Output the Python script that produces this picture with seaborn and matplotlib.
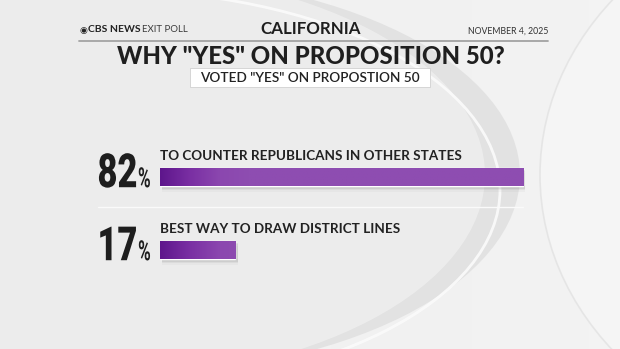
import numpy as np
import pandas as pd
import matplotlib
matplotlib.use("Agg")
import matplotlib.pyplot as plt
import seaborn as sns
import matplotlib.patheffects as pe
from matplotlib.transforms import Affine2D
from matplotlib.patches import Ellipse, Rectangle
from matplotlib.colors import LinearSegmentedColormap

# ---- data ----
categories = ["TO COUNTER REPUBLICANS IN OTHER STATES", "BEST WAY TO DRAW DISTRICT LINES"]
values = [82, 17]
state = "CALIFORNIA"
title = 'WHY "YES" ON PROPOSITION 50?'
subtitle = 'VOTED "YES" ON PROPOSTION 50'
date = "NOVEMBER 4, 2025"

df = pd.DataFrame({"category": categories, "value": values})

sns.set_theme(style="white")
plt.rcParams["font.family"] = ["Lato", "DejaVu Sans"]


class Condense(pe.AbstractPathEffect):
    """Draw text glyphs horizontally condensed toward one edge
    (the text stays a real Text artist)."""

    def __init__(self, sx, anchor="right"):
        super().__init__()
        self.sx = sx
        self.anchor = anchor

    def draw_path(self, renderer, gc, tpath, affine, rgbFace=None):
        ext = tpath.get_extents()
        xa = ext.x1 if self.anchor == "right" else ext.x0
        tr = Affine2D().translate(-xa, 0).scale(self.sx, 1).translate(xa, 0)
        renderer.draw_path(gc, tpath, tr + affine, rgbFace)


W, H = 620, 349
fig = plt.figure(figsize=(W / 100, H / 100), dpi=100)
fig.patch.set_facecolor("#e9e9e9")

# ---- background decoration (pixel coordinates) ----
bg = fig.add_axes([0, 0, 1, 1], zorder=0)
bg.set_xlim(0, W)
bg.set_ylim(H, 0)
bg.axis("off")
grad = np.linspace(0, 1, 256)[None, :]
bgmap = LinearSegmentedColormap.from_list("bg", ["#f0f0f0", "#eaeaea", "#e5e5e5", "#ececec"])
bg.imshow(grad, extent=(0, W, H, 0), cmap=bgmap, aspect="auto", zorder=0)
bg.add_patch(Ellipse((900, 170), 1370, 1000, facecolor="#f6f6f6", edgecolor="none", alpha=0.75, zorder=1))
bg.add_patch(Ellipse((120, 175), 800, 400, facecolor="#d6d6d6", edgecolor="none", alpha=0.55, zorder=2))
bg.add_patch(Ellipse((95, 175), 780, 410, facecolor="#eeeeee", edgecolor="none", alpha=0.9, zorder=3))
bg.add_patch(Ellipse((105, 190), 790, 400, facecolor="none", edgecolor="#fbfbfb", lw=2.0, alpha=0.9, zorder=3))
bg.add_patch(Ellipse((870, 175), 660, 560, facecolor="#f6f6f6", edgecolor="#e2e2e2", lw=1.2, alpha=0.8, zorder=3))

# header
bg.plot([79, 548], [40.5, 40.5], color="#a3a3a3", lw=1.3, zorder=5)
bg.text(79, 30, "◉", fontsize=6.5, color="#222222", va="center", ha="left",
        family=["DejaVu Sans"], zorder=6)
bg.text(87.5, 30, "CBS NEWS", fontsize=7.5, weight="bold", color="#222222",
        va="center", ha="left", zorder=6)
bg.text(141.5, 30, "EXIT POLL", fontsize=6.9, weight="normal", color="#3a3a3a",
        va="center", ha="left", zorder=6)
bg.text(311, 29.5, state, fontsize=12.2, weight="bold", color="#1e1e1e",
        va="center", ha="center", zorder=6)
bg.text(548, 31, date, fontsize=6.3, color="#333333", va="center", ha="right", zorder=6)
bg.text(311, 56.5, title, fontsize=17.3, weight="black", color="#1f1f1f",
        va="center", ha="center", zorder=6)
bg.add_patch(Rectangle((190, 68), 240, 18.5, facecolor="white", edgecolor="#d0d0d0",
                       lw=0.6, zorder=5))
bg.text(310, 77.5, subtitle, fontsize=9.8, weight="semibold", color="#222222",
        va="center", ha="center", zorder=6)

# ---- chart axes ----
ax = fig.add_axes([160 / W, (H - 286.5) / H, 443 / W, 146 / H], zorder=2)
ax.patch.set_alpha(0)
sns.barplot(data=df, x="value", y="category", orient="h", color="#8c4bb0",
            width=0.26, ax=ax, zorder=3)
ax.set_xlim(0, 100)
ax.set_ylim(1.5, -0.5)
ax.axis("off")

cmap = LinearSegmentedColormap.from_list("p", ["#5e168c", "#7a2fa3", "#8b47af", "#8e4db1"])
for p in list(ax.patches):
    x0, y0 = p.get_x(), p.get_y()
    w, h = p.get_width(), p.get_height()
    # soft shadow
    for k, a in enumerate([0.10, 0.07, 0.04]):
        ax.add_patch(Rectangle((x0 + 0.5, y0 + 0.03 + 0.02 * k), w, h,
                               facecolor="#555555", edgecolor="none", alpha=a, zorder=2))
    xs = np.linspace(x0, x0 + w, 300)
    t = np.clip((xs - x0) / 20.0, 0, 1)
    im = ax.imshow(t[None, :], extent=(x0, x0 + w, y0 + h, y0), cmap=cmap, vmin=0, vmax=1,
                   aspect="auto", interpolation="bilinear", zorder=4)
    im.set_clip_path(p)

ax.set_xlim(0, 100)
ax.set_ylim(1.5, -0.5)

# separator
ax.plot([-14, 82], [0.41, 0.41], color="#fafafa", lw=1.0, clip_on=False, zorder=1)

num_font = ["Roboto", "DejaVu Sans"]
SX_NUM, SX_PCT = 0.73, 0.62
LEFT_PX = 98  # left edge of the big numbers, in figure pixels
fig.canvas.draw()
renderer = fig.canvas.get_renderer()
inv = ax.transData.inverted()
for i, (cat, v) in enumerate(zip(categories, values)):
    ax.text(0.1, i - 0.29, cat, fontsize=9.7, weight="bold", color="#222222",
            va="center", ha="left", clip_on=False)
    nt = ax.text(0, i + 0.14, f"{v}", fontsize=34, weight="heavy", color="#1e1e1e",
                 family=num_font, va="baseline", ha="left", clip_on=False)
    nt.set_path_effects([Condense(SX_NUM, "right")])
    bw = nt.get_window_extent(renderer).width
    start_px = LEFT_PX - (1 - SX_NUM) * bw
    nt.set_x(inv.transform((start_px, 0))[0])
    right_px = start_px + bw - 0.5
    pt = ax.text(inv.transform((right_px, 0))[0], i + 0.14, "%", fontsize=20,
                 weight="bold", color="#1e1e1e", family=num_font,
                 va="baseline", ha="left", clip_on=False)
    pt.set_path_effects([Condense(SX_PCT, "left")])

fig.savefig("out.png", dpi=100, facecolor=fig.get_facecolor())
